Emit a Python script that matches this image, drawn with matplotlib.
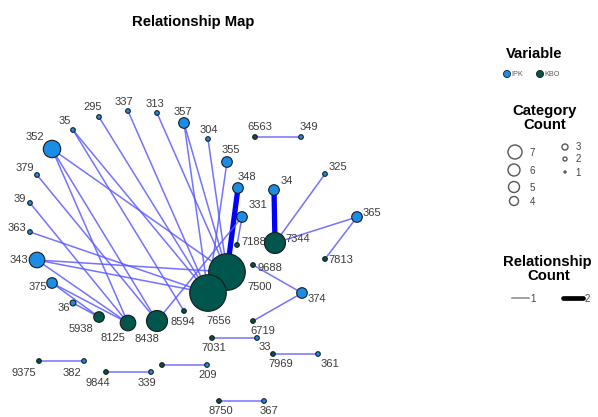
import matplotlib.pyplot as plt

plt.rcParams['font.family'] = ['Liberation Sans', 'DejaVu Sans']

# nodes: name, variable, category count, layout x, layout y (pixel layout of the map)
ipk_names = ['35', '295', '337', '313', '357', '304', '352', '379', '39', '363', '343',
             '375', '36', '355', '348', '331', '34', '325', '365', '374', '349', '33',
             '361', '209', '339', '382', '367']
ipk_count = [1, 1, 1, 1, 3, 1, 5, 1, 1, 1, 4,
             3, 2, 3, 3, 3, 3, 1, 3, 3, 1, 1,
             1, 1, 1, 1, 1]
ipk_x = [73, 99, 128, 157, 184, 208, 52, 37, 30, 30, 37,
         52, 73, 227, 238, 242, 274, 325, 357, 302, 301, 257,
         318, 207, 151, 84, 264]
ipk_y = [130, 117, 111, 113, 123, 139, 149, 175, 203, 232, 260,
         283, 303, 162, 188, 217, 190, 174, 217, 293, 137, 338,
         354, 365, 372, 361, 401]

kbo_names = ['7500', '7656', '7344', '7188', '9688', '7813', '8594', '8438', '8125',
             '5938', '6719', '7031', '7969', '9375', '9844', '6563', '8750', '']
kbo_count = [7, 7, 6, 1, 1, 1, 1, 6, 4,
             3, 1, 1, 1, 1, 1, 1, 1, 1]
kbo_x = [227, 208, 275, 237, 253, 325, 184, 157, 128,
         99, 253, 212, 273, 39, 106, 255, 219, 162]
kbo_y = [272, 293, 243, 245, 265, 259, 311, 321, 323,
         317, 321, 338, 354, 361, 372, 137, 401, 365]

# relationships: (KBO, IPK, count)
edges = [
    ('7656', '35', 1), ('7656', '295', 1), ('7656', '337', 1), ('7500', '313', 1),
    ('7500', '357', 1), ('7656', '357', 1), ('7500', '304', 1), ('7656', '355', 1),
    ('7500', '352', 1), ('8125', '352', 1), ('8438', '352', 1), ('8438', '379', 1),
    ('8125', '39', 1), ('7656', '363', 1), ('7500', '343', 1), ('7656', '343', 1),
    ('8125', '343', 1), ('5938', '375', 1), ('8125', '375', 1), ('5938', '36', 1),
    ('7500', '348', 2), ('7188', '331', 1), ('8438', '331', 1), ('8594', '35', 1),
    ('7344', '34', 2), ('7344', '325', 1), ('7344', '365', 1), ('7813', '365', 1),
    ('9688', '374', 1), ('6719', '374', 1), ('7031', '33', 1), ('7969', '361', 1),
    ('6563', '349', 1), ('9375', '382', 1), ('9844', '339', 1), ('', '209', 1),
    ('8750', '367', 1),
]

# label offsets (pixels) per node
lab = {
    '35': (-8, -9), '295': (-6, -10), '337': (-4, -9), '313': (-2, -9), '357': (-1, -11),
    '304': (1, -9), '352': (-17, -12), '379': (-12, -7), '39': (-10, -4), '363': (-13, -4),
    '343': (-18, 0), '375': (-14, 4), '36': (-9, 5), '355': (4, -12), '348': (9, -11),
    '331': (16, -12), '34': (13, -9), '325': (13, -7), '365': (15, -4), '374': (15, 6),
    '349': (8, -10), '33': (8, 9), '361': (12, 10), '209': (1, 10), '339': (-4, 11),
    '382': (-12, 12), '367': (5, 10), '7500': (33, 15), '7656': (11, 28), '7344': (23, -4),
    '7188': (17, -3), '9688': (17, 3), '7813': (16, 1), '8594': (-1, 11), '8438': (-10, 18),
    '8125': (-15, 15), '5938': (-18, 12), '6719': (10, 10), '7031': (2, 10), '7969': (8, 10),
    '9375': (-15, 12), '9844': (-8, 11), '6563': (5, -10), '8750': (2, 10), '': (0, 0),
}

radius = {1: 2.3, 2: 2.9, 3: 5.3, 4: 7.8, 5: 8.7, 6: 10.5, 7: 18.3}
ipk_col = '#1a8ee6'
kbo_col = '#00554c'

fig = plt.figure(figsize=(5.98, 4.17), dpi=100)
ax = fig.add_axes([0, 0, 1, 1])
ax.set_xlim(0, 598)
ax.set_ylim(417, 0)
ax.axis('off')

pos = {}
for n, x, y in zip(ipk_names, ipk_x, ipk_y):
    pos[n] = (x, y)
for n, x, y in zip(kbo_names, kbo_x, kbo_y):
    pos[n] = (x, y)

for a, b, c in edges:
    (x0, y0), (x1, y1) = pos[a], pos[b]
    if c == 1:
        ax.plot([x0, x1], [y0, y1], color='#5a5aff', lw=1.1, alpha=0.85, zorder=1)
    else:
        ax.plot([x0, x1], [y0, y1], color='#0000ff', lw=3.8, zorder=1)

def s_of(counts):
    return [(2 * radius[c] * 0.72) ** 2 for c in counts]

ax.scatter(kbo_x, kbo_y, s=s_of(kbo_count), color=kbo_col, edgecolor='#1a1a1a',
           linewidth=0.8, zorder=3)
ax.scatter(ipk_x, ipk_y, s=s_of(ipk_count), color=ipk_col, edgecolor='#1a1a1a',
           linewidth=0.8, zorder=4)

for n, (x, y) in pos.items():
    if not n:
        continue
    dx, dy = lab[n]
    ax.text(x + dx, y + dy, n, fontsize=8, color='#3a3a3a', ha='center', va='center', zorder=2)

ax.text(193, 22, 'Relationship Map', fontsize=10.7, fontweight='bold', ha='center', va='center')

# legend: Variable
ax.text(534, 54, 'Variable', fontsize=10.7, fontweight='bold', ha='center', va='center')
ax.scatter([507, 540], [74, 74], s=26, color=[ipk_col, kbo_col], edgecolor='#1a1a1a', linewidth=0.6)
ax.text(511.5, 74.5, 'IPK', fontsize=5.2, color='#555555', va='center')
ax.text(544.5, 74.5, 'KBO', fontsize=5.2, color='#555555', va='center')

# legend: Category Count
ax.text(545, 111, 'Category', fontsize=10.7, fontweight='bold', ha='center', va='center')
ax.text(545, 125, 'Count', fontsize=10.7, fontweight='bold', ha='center', va='center')
leg_counts = [7, 6, 5, 4, 3, 2, 1]
leg_x = [515, 514, 514, 514, 565, 565, 565]
leg_y = [152, 170, 187, 201, 147, 159, 172]
leg_r = [7, 6, 5.5, 4.5, 3, 2, 1]
ax.scatter(leg_x, leg_y, s=[(2 * r * 0.72) ** 2 for r in leg_r], facecolor='white',
           edgecolor='#555555', linewidth=1.0)
for c, x, y in zip(leg_counts, leg_x, leg_y):
    tx = 532 if x < 540 else 578
    ax.text(tx, y + 0.5, str(c), fontsize=7, color='#444444', ha='center', va='center')

# legend: Relationship Count
ax.text(547, 262, 'Relationship', fontsize=10.7, fontweight='bold', ha='center', va='center')
ax.text(549, 276, 'Count', fontsize=10.7, fontweight='bold', ha='center', va='center')
ax.plot([512, 529], [298, 298], color='#888888', lw=1.1)
ax.text(533, 298.5, '1', fontsize=7, color='#444444', ha='center', va='center')
ax.plot([563, 583], [298, 298], color='black', lw=3.4, solid_capstyle='round')
ax.text(587, 298.5, '2', fontsize=7, color='#444444', ha='center', va='center')

fig.savefig('out.png', dpi=100)
